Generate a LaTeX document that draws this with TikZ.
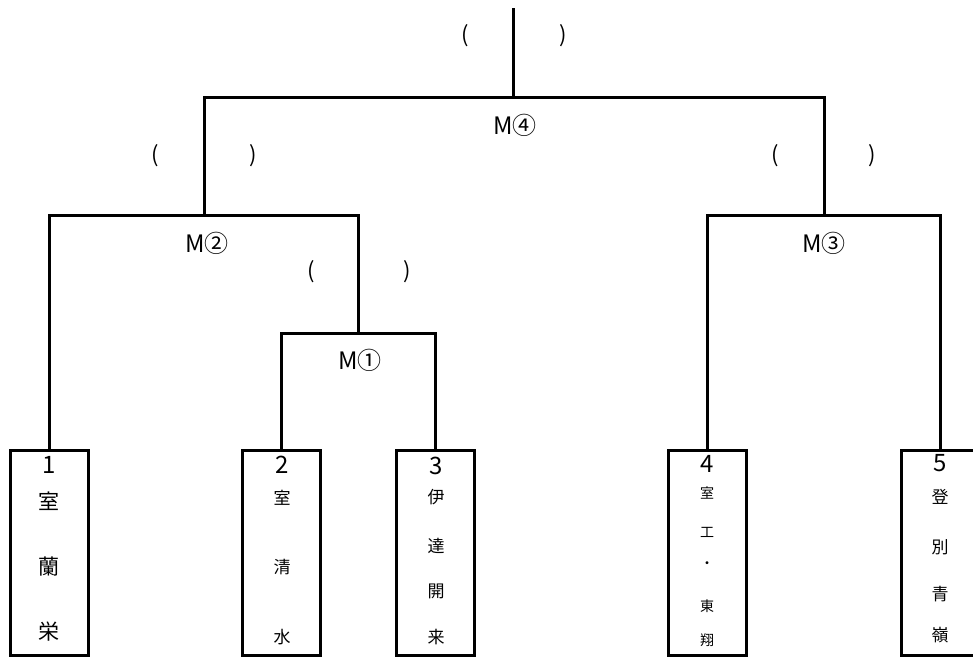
\documentclass[tikz,border=0pt]{standalone}
\usepackage{fontspec}
\setmainfont{Noto Sans CJK JP}
\begin{document}
\begin{tikzpicture}[x=1pt,y=-1pt,
  line/.style={line width=3pt, line join=miter},
  entry/.style={draw, line width=3pt, minimum width=78pt, minimum height=205pt, inner sep=0pt},
  lbl/.style={inner sep=0pt, font=\fontsize{24}{24}\selectfont},
  paren/.style={inner sep=0pt, font=\fontsize{22}{22}\selectfont},
  kA/.style={inner sep=0pt, font=\fontsize{21}{21}\selectfont},
  kB/.style={inner sep=0pt, font=\fontsize{17}{17}\selectfont},
  kC/.style={inner sep=0pt, font=\fontsize{14}{14}\selectfont}]
\useasboundingbox (0,0) rectangle (973,657);
\clip (0,0) rectangle (973,657);
% boxes
\node[entry] (b1) at (49,552.5) {};
\node[entry] (b2) at (281.5,552.5) {};
\node[entry] (b3) at (435.5,552.5) {};
\node[entry] (b4) at (707,552.5) {};
\node[entry] (b5) at (940,552.5) {};
% junctions
\coordinate (j1) at (358,333);
\coordinate (j2) at (204,215);
\coordinate (j3) at (824,215);
\coordinate (j4) at (513,97);
\coordinate (top) at (513,8);
% bracket lines
\draw[line] (b2.north) |- (j1) -| (b3.north);
\draw[line] (b1.north) |- (j2) -| (j1);
\draw[line] (b4.north) |- (j3) -| (b5.north);
\draw[line] (j2) |- (j4) -| (j3);
\draw[line] (j4) -- (top);
% match labels
\node[lbl] (m4) at (515,125) {M④};
\node[lbl] (m2) at (207,243) {M②};
\node[lbl] (m3) at (824,243) {M③};
\node[lbl] (m1) at (360,360) {M①};
% parentheses
\node[paren] (p4l) at (465,36) {(};
\node[paren] (p4r) at (563,36) {)};
\node[paren] (p2l) at (155,156) {(};
\node[paren] (p2r) at (253,156) {)};
\node[paren] (p3l) at (775,156) {(};
\node[paren] (p3r) at (872,156) {)};
\node[paren] (p1l) at (311,272) {(};
\node[paren] (p1r) at (407,272) {)};
% box 1
\node[lbl] (n1) at (49,465) {1};
\node[kA] (t11) at (49,501) {室};
\node[kA] (t12) at (49,567) {蘭};
\node[kA] (t13) at (49,632) {栄};
% box 2
\node[lbl] (n2) at (282,465) {2};
\node[kB] (t21) at (282,498) {室};
\node[kB] (t22) at (282,567) {清};
\node[kB] (t23) at (282,637) {水};
% box 3
\node[lbl] (n3) at (436,466) {3};
\node[kB] (t31) at (436,497) {伊};
\node[kB] (t32) at (436,546) {達};
\node[kB] (t33) at (436,591) {開};
\node[kB] (t34) at (436,637) {来};
% box 4
\node[lbl] (n4) at (707,464) {4};
\node[kC] (t41) at (707,493) {室};
\node[kC] (t42) at (707,532) {工};
\node[kC] (t43) at (707,565) {・};
\node[kC] (t44) at (707,606) {東};
\node[kC] (t45) at (707,640) {翔};
% box 5
\node[lbl] (n5) at (940,463) {5};
\node[kB] (t51) at (940,497) {登};
\node[kB] (t52) at (940,547) {別};
\node[kB] (t53) at (940,594) {青};
\node[kB] (t54) at (940,635) {嶺};
\end{tikzpicture}
\end{document}
